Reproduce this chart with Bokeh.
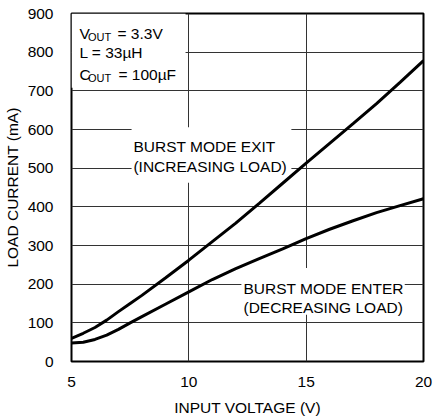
from bokeh.plotting import figure
from bokeh.models import Label, BoxAnnotation, FixedTicker, Range1d
from bokeh.embed import file_html
from bokeh.resources import INLINE

# Data
vin_exit = [5, 5.5, 6, 6.5, 7, 7.5, 8, 9, 10, 11, 12, 13, 14, 15, 16, 17, 18, 19, 20]
iload_exit = [60, 73, 88, 107, 129, 150, 171, 216, 262, 310, 358, 409, 461, 513, 564, 615, 667, 722, 778]

vin_enter = [5, 5.5, 6, 6.5, 7, 7.5, 8, 9, 10, 11, 12, 13, 14, 15, 16, 17, 18, 19, 20]
iload_enter = [48, 50, 57, 68, 83, 100, 116, 148, 180, 212, 240, 266, 291, 318, 342, 364, 385, 403, 421]

x_ticks = [5, 10, 15, 20]
y_ticks = [0, 100, 200, 300, 400, 500, 600, 700, 800, 900]

FONT = "Liberation Sans"
FS = "15.5px"

p = figure(width=438, height=418, output_backend="svg", toolbar_location=None,
           x_range=Range1d(5, 20), y_range=Range1d(0, 900),
           min_border_left=71, min_border_right=15, min_border_top=13, min_border_bottom=54)
p.background_fill_color = "white"
p.border_fill_color = "white"
p.outline_line_color = "black"
p.outline_line_width = 2

for ax in (p.xaxis[0], p.yaxis[0]):
    ax.axis_line_color = None
    ax.major_tick_line_color = None
    ax.minor_tick_line_color = None
    ax.major_label_text_font = FONT
    ax.major_label_text_font_size = FS
    ax.major_label_text_color = "black"
    ax.axis_label_text_font = FONT
    ax.axis_label_text_font_size = FS
    ax.axis_label_text_font_style = "normal"
    ax.axis_label_text_color = "black"

p.xaxis.ticker = FixedTicker(ticks=x_ticks)
p.yaxis.ticker = FixedTicker(ticks=y_ticks)
p.xaxis.axis_label = "INPUT VOLTAGE (V)"
p.yaxis.axis_label = "LOAD CURRENT (mA)"
p.xaxis.major_label_standoff = 9
p.yaxis.major_label_standoff = 12
p.xaxis.axis_label_standoff = 9
p.yaxis.axis_label_standoff = 4

p.xgrid.ticker = FixedTicker(ticks=x_ticks)
p.ygrid.ticker = FixedTicker(ticks=y_ticks)
for g in (p.xgrid[0], p.ygrid[0]):
    g.grid_line_color = "#333333"
    g.grid_line_width = 1
    g.level = "image"

# white boxes behind the annotation texts (interrupting the grid, under the curves)
for l, r, b, t in [(5, 9.86, 708, 900), (7.56, 14.37, 462, 606), (12.24, 19.2, 121, 242)]:
    p.add_layout(BoxAnnotation(left=l, right=r, bottom=b, top=t, fill_color="white",
                               fill_alpha=1, line_color=None, level="underlay"))

p.line(vin_exit, iload_exit, line_color="black", line_width=3)
p.line(vin_enter, iload_enter, line_color="black", line_width=3)


def lab(x, y, t, size=FS, **kw):
    p.add_layout(Label(x=x, y=y, text=t, text_font=FONT, text_font_size=size,
                       text_color="black", text_baseline="alphabetic", **kw))


# top-left conditions block
lab(5.34, 847, "V")
lab(5.70, 839, "OUT", size="11px")
lab(6.96, 847, "= 3.3V")
lab(5.34, 798, "L = 33\u00b5H")
lab(5.34, 742, "C")
lab(5.70, 734, "OUT", size="11px")
lab(7.0, 742, "= 100\u00b5F")

# curve labels
lab(7.64, 555, "BURST MODE EXIT")
lab(7.64, 504, "(INCREASING LOAD)")
lab(12.33, 188, "BURST MODE ENTER")
lab(12.33, 139, "(DECREASING LOAD)")

open("out.html", "w").write(file_html(p, INLINE))
